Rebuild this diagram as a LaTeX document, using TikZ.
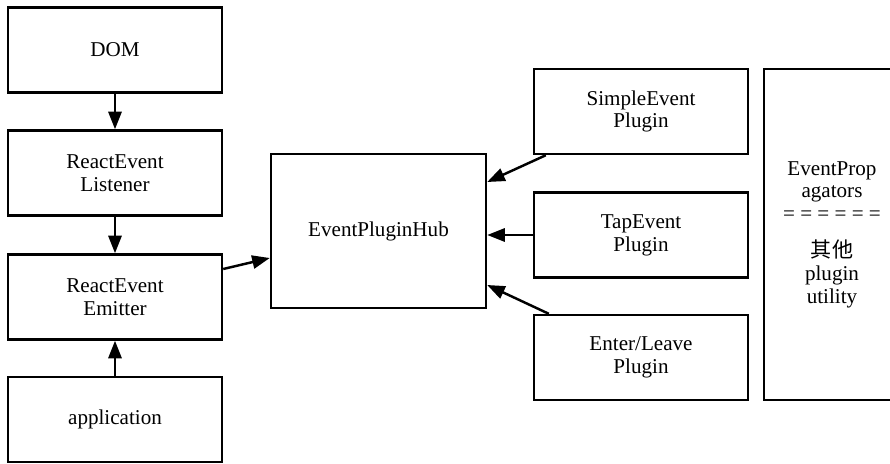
\documentclass[tikz,border=0pt]{standalone}
\usepackage{fontspec}
\setmainfont{Liberation Serif}
\newfontfamily\cjkfont{Noto Sans CJK SC}
\usetikzlibrary{arrows.meta}
\tikzset{
    block/.style = {rectangle, line width=1.4pt, draw=black, minimum width = 4.28cm, minimum height = 1.70cm, align=center, font=\fontsize{12pt}{13pt}\selectfont},
    hubblock/.style = {block, minimum width = 4.30cm, minimum height = 3.08cm},
    utilblock/.style = {block, minimum width = 2.72cm, minimum height = 6.62cm},
    edgen/.style = {-{Triangle[length=10pt,width=7.5pt]}, line width=1.4pt}
}
\begin{document}
\begin{tikzpicture}
\useasboundingbox (0,0) rectangle (17.8,-9.26);
\node[block] at (2.30,-1.00) (dom) {DOM};
\node[block] at (2.30,-3.46) (listener) {ReactEvent\\Listener};
\node[block] at (2.30,-5.94) (emitter) {ReactEvent\\Emitter};
\node[block] at (2.30,-8.39) (app) {application};
\node[hubblock] at (7.57,-4.62) (hub) {EventPluginHub};
\node[block] at (12.82,-2.23) (simple) {SimpleEvent\\Plugin};
\node[block] at (12.82,-4.70) (tap) {TapEvent\\Plugin};
\node[block] at (12.82,-7.15) (enterleave) {Enter/Leave\\Plugin};
\node[utilblock] at (16.64,-4.69) (props) {EventProp\\agators\\= = = = = =\\[0.28cm]{\cjkfont 其他}\\plugin\\utility};
%
\draw[edgen] (dom) edge (listener);
\draw[edgen] (listener) edge (emitter);
\draw[edgen] (app) edge (emitter);
\draw[edgen] ([yshift=0.56cm]emitter.east) -- ([yshift=-0.54cm]hub.west);
\draw[edgen] ([xshift=0.26cm]simple.south west) -- ([yshift=0.98cm]hub.east);
\draw[edgen] (tap.west) -- (tap.west -| hub.east);
\draw[edgen] ([xshift=0.32cm]enterleave.north west) -- ([yshift=-1.08cm]hub.east);
\end{tikzpicture}
\end{document}
